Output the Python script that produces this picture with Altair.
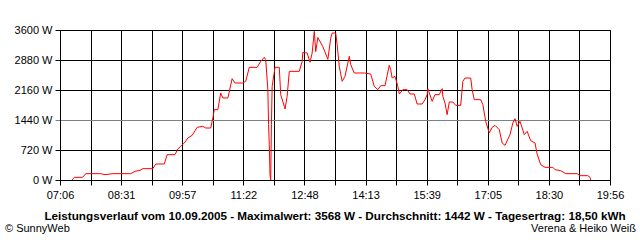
import altair as alt
import pandas as pd
import json

# ---- data ----
times = ["07:23","07:26","07:37","07:40","07:42","08:03","08:09","08:20","08:45","08:51",
         "08:58","09:02","09:16","09:20","09:32","09:36","09:47","09:51","09:55","10:00",
         "10:05","10:11","10:18","10:26","10:30","10:37","10:40","10:42","10:47","10:51",
         "10:54","11:01","11:07","11:11","11:22","11:26","11:31","11:42","11:47","11:52",
         "11:54","11:57","11:58","11:59","12:00","12:01","12:02","12:03","12:07","12:13",
         "12:15","12:20","12:21","12:24","12:27","12:41","12:45","12:46","12:52","12:56",
         "12:59","13:02","13:04","13:07","13:14","13:21","13:25","13:27","13:32","13:34",
         "13:37","13:41","13:45","13:51","13:53","13:58","14:12","14:21","14:26","14:31",
         "14:35","14:41","14:47","14:49","14:51","14:55","14:59","15:01","15:05","15:06",
         "15:12","15:16","15:22","15:26","15:33","15:37","15:40","15:41","15:47","15:51",
         "15:57","16:01","16:02","16:05","16:08","16:11","16:16","16:20","16:27","16:30",
         "16:33","16:41","16:43","16:46","16:55","16:58","17:02","17:07","17:11","17:15",
         "17:21","17:25","17:29","17:36","17:40","17:43","17:46","17:50","17:56","18:00",
         "18:05","18:11","18:14","18:19","18:25","18:36","18:39","18:47","18:54","19:10",
         "19:14","19:25","19:28","19:29"]
watts = [0,64,64,104,152,152,128,152,152,208,
         232,272,272,384,384,608,608,744,808,888,
         1008,1072,1264,1288,1248,1248,1488,1688,1688,2088,
         1968,1968,2432,2328,2328,2368,2704,2704,2848,2944,
         2888,2168,1328,848,128,0,1328,2248,2704,2704,
         2048,1768,1704,2008,2608,2608,2848,3064,3048,2824,
         3048,3568,3080,3420,3200,2896,3400,3528,3528,3248,
         2728,2368,2488,2968,2768,2568,2568,2544,2248,2168,
         2264,2264,2752,2648,2448,2488,2248,2064,2144,2168,
         2168,2064,2064,1824,1824,1928,2048,2192,1888,2048,
         2048,2192,2008,1848,1568,1872,1872,1792,1792,2368,
         2448,2448,2168,1928,1928,1808,1408,1128,1264,1312,
         1208,888,832,1088,1368,1472,1288,1408,1088,1168,
         944,888,624,368,304,304,248,224,152,152,
         104,104,64,0]

x_labels = ["07:06","08:31","09:57","11:22","12:48","14:13","15:39","17:05","18:30","19:56"]
y_ticks = [0, 720, 1440, 2160, 2880, 3600]

title_text = "Leistungsverlauf vom 10.09.2005 - Maximalwert: 3568 W - Durchschnitt: 1442 W - Tagesertrag: 18,50 kWh"
left_note = "© SunnyWeb"
right_note = "Verena & Heiko Weiß"

def to_min(s):
    h, m = s.split(":")
    return int(h) * 60 + int(m)

df = pd.DataFrame({"t": [to_min(s) for s in times], "w": watts})

start = to_min(x_labels[0])
end = to_min(x_labels[-1])
n_grid = (len(x_labels) - 1) * 2
step = (end - start) / n_grid
x_vals = [start + i * step for i in range(n_grid + 1)]
lab_arr = []
for i in range(n_grid + 1):
    lab_arr.append(x_labels[i // 2] if i % 2 == 0 else "")
lab_js = json.dumps(lab_arr)

FONT = "Liberation Sans"

x_axis = alt.Axis(
    values=x_vals,
    labelExpr=f"{lab_js}[round((datum.value - {start}) / {step})]",
    grid=True, gridColor="black", gridWidth=1, gridOpacity=1,
    tickColor="black", tickSize=5, tickWidth=1,
    domainColor="black", labelColor="black", labelFont=FONT, labelFontSize=11,
    labelPadding=4, title=None, labelFlush=False, labelOverlap=False,
)
y_axis = alt.Axis(
    values=y_ticks,
    labelExpr="datum.value + ' W'",
    grid=True,
    gridColor={"condition": {"test": "datum.value === 1440", "value": "#808080"}, "value": "black"},
    tickColor={"condition": {"test": "datum.value === 1440", "value": "#808080"}, "value": "black"},
    gridWidth=1, gridOpacity=1, tickSize=5, tickWidth=1,
    domainColor="black", labelColor="black", labelFont=FONT, labelFontSize=11,
    labelPadding=3, title=None, labelFlush=False, labelOverlap=False,
)

line = alt.Chart(df).mark_line(color="#ff0000", strokeWidth=1, clip=True).encode(
    x=alt.X("t:Q", scale=alt.Scale(domain=[start, end], nice=False, zero=False), axis=x_axis),
    y=alt.Y("w:Q", scale=alt.Scale(domain=[0, 3600], nice=False), axis=y_axis),
    order="t:Q",
)

t1 = alt.Chart(pd.DataFrame({"s": [title_text]})).mark_text(
    font=FONT, fontSize=11.7, fontWeight="bold", color="black", align="center", baseline="middle"
).encode(text="s:N", x=alt.value(275), y=alt.value(186))

t2 = alt.Chart(pd.DataFrame({"s": [left_note]})).mark_text(
    font=FONT, fontSize=11, color="black", align="left", baseline="middle"
).encode(text="s:N", x=alt.value(-55), y=alt.value(199))

t3 = alt.Chart(pd.DataFrame({"s": [right_note]})).mark_text(
    font=FONT, fontSize=11, color="black", align="right", baseline="middle"
).encode(text="s:N", x=alt.value(576), y=alt.value(199))

chart = alt.layer(line, t1, t2, t3).properties(
    width=550, height=150,
    autosize=alt.AutoSizeParams(type="none"),
    padding={"left": 60, "top": 30, "right": 30, "bottom": 60},
    background="white",
).configure_view(stroke="black", strokeWidth=1)

chart.save("out.html", embed_options={"renderer": "svg", "actions": False})
